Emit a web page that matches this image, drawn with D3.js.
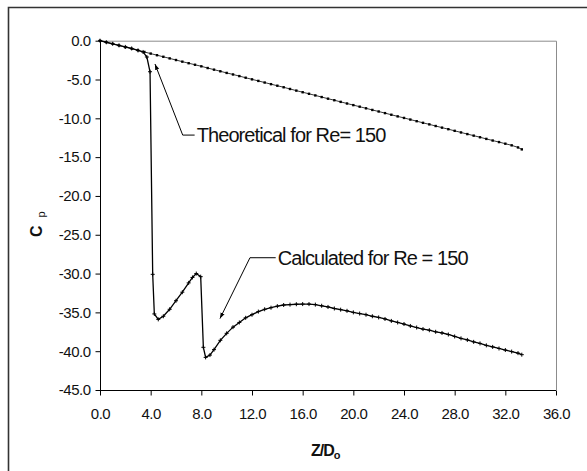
<!DOCTYPE html>
<html lang="en">
<head>
    <meta charset="UTF-8">
    <title>Cp vs Z/Do</title>
    <script src="https://d3js.org/d3.v7.min.js"></script>
    <style>
        body { margin: 0; background: #fff; }
        svg { display: block; font-family: "Liberation Sans", Arial, sans-serif; }
        .axis text { font-size: 15px; fill: #111; letter-spacing: -0.5px; }
        .axis path, .axis line { stroke: #000; }
        .note { font-size: 20px; fill: #111; letter-spacing: -0.9px; }
    </style>
</head>
<body>
    <svg width="587" height="471"></svg>
    <script>
        // values
        const xTicks = [0, 4, 8, 12, 16, 20, 24, 28, 32, 36];
        const yTicks = [0, -5, -10, -15, -20, -25, -30, -35, -40, -45];

        const theoreticalZ = [0, 0.5, 1, 1.5, 2, 2.5, 3, 3.5, 4, 4.5, 5, 5.5, 6, 6.5, 7, 7.5, 8, 8.5, 9, 9.5,
            10, 10.5, 11, 11.5, 12, 12.5, 13, 13.5, 14, 14.5, 15, 15.5, 16, 16.5, 17, 17.5, 18, 18.5, 19, 19.5,
            20, 20.5, 21, 21.5, 22, 22.5, 23, 23.5, 24, 24.5, 25, 25.5, 26, 26.5, 27, 27.5, 28, 28.5, 29, 29.5,
            30, 30.5, 31, 31.5, 32, 32.5, 33, 33.3];
        const theoreticalCp = [0, -0.2, -0.4, -0.62, -0.83, -1.03, -1.24, -1.45, -1.66, -1.87, -2.07, -2.28, -2.49, -2.7, -2.9, -3.1, -3.3, -3.52, -3.73, -3.94,
            -4.15, -4.35, -4.56, -4.77, -4.98, -5.18, -5.39, -5.6, -5.8, -6.0, -6.22, -6.43, -6.64, -6.84, -7.05, -7.26, -7.47, -7.67, -7.88, -8.09,
            -8.3, -8.5, -8.71, -8.92, -9.12, -9.33, -9.54, -9.75, -9.95, -10.16, -10.37, -10.58, -10.78, -10.99, -11.2, -11.4, -11.61, -11.82, -12.03, -12.23,
            -12.44, -12.65, -12.86, -13.06, -13.27, -13.48, -13.75, -14.0];

        const calculatedZ = [0, 0.5, 1, 1.5, 2, 2.5, 3, 3.4, 3.7, 3.95, 4.16, 4.29, 4.6, 5, 5.5, 6, 6.5, 7, 7.3, 7.6,
            7.95, 8.16, 8.34, 8.68, 9, 9.5, 10, 10.5, 11, 11.5, 12, 12.5, 13, 13.5, 14, 14.5, 15, 15.5, 16, 16.5,
            17, 17.5, 18, 18.5, 19, 19.5, 20, 20.5, 21, 21.5, 22, 22.5, 23, 23.5, 24, 24.5, 25, 25.5, 26, 26.5,
            27, 27.5, 28, 28.5, 29, 29.5, 30, 30.5, 31, 31.5, 32, 32.5, 33, 33.3];
        const calculatedCp = [0, -0.2, -0.4, -0.6, -0.8, -1.0, -1.25, -1.45, -2.1, -4.0, -30.1, -35.2, -35.9, -35.5, -34.6, -33.5, -32.4, -31.2, -30.5, -30.0,
            -30.4, -39.5, -40.8, -40.5, -39.8, -38.6, -37.7, -36.9, -36.3, -35.7, -35.3, -34.9, -34.6, -34.4, -34.2, -34.05, -34.0, -33.95, -33.93, -33.93,
            -34.0, -34.15, -34.3, -34.5, -34.65, -34.8, -35.0, -35.15, -35.3, -35.5, -35.65, -35.85, -36.1, -36.3, -36.5, -36.75, -36.95, -37.15, -37.3, -37.5,
            -37.65, -37.85, -38.1, -38.35, -38.55, -38.8, -39.0, -39.25, -39.45, -39.65, -39.85, -40.05, -40.25, -40.45];

        const theoretical = theoreticalZ.map((z, i) => ({ z: z, cp: theoreticalCp[i] }));
        const calculated = calculatedZ.map((z, i) => ({ z: z, cp: calculatedCp[i] }));

        const margin = { top: 40.7, bottom: 81, left: 100, right: 31 };
        const width = 587;
        const height = 471;

        const svg = d3.select("svg");

        const xScale = d3.scaleLinear()
            .domain([0, 36])
            .range([margin.left, width - margin.right]);

        const yScale = d3.scaleLinear()
            .domain([-45, 0])
            .range([height - margin.bottom, margin.top]);

        // outer chart frame (right and bottom run off the picture)
        svg.append("path")
            .attr("d", `M8.5,${height + 2} V7.5 H${width + 2}`)
            .attr("fill", "none")
            .attr("stroke", "#333")
            .attr("stroke-width", 1.6);

        // plot area frame, top and right in grey
        svg.append("path")
            .attr("d", `M${margin.left},${yScale(0) + 0.5} H${xScale(36) + 0.5} V${yScale(-45)}`)
            .attr("fill", "none")
            .attr("stroke", "#8c8c8c")
            .attr("stroke-width", 1);

        const fmt = d => d.toFixed(1);

        svg.append("g").attr("class", "axis")
            .attr("transform", `translate(0, ${yScale(-45) + 0.5})`)
            .call(d3.axisBottom(xScale).tickValues(xTicks).tickFormat(fmt).tickSize(5).tickPadding(13))
            .call(g => g.select(".domain").attr("d", `M${xScale(0)},0H${xScale(36)}`));

        svg.append("g").attr("class", "axis")
            .attr("transform", `translate(${margin.left + 0.5}, 0)`)
            .call(d3.axisLeft(yScale).tickValues(yTicks).tickFormat(fmt).tickSize(5).tickPadding(5))
            .call(g => g.select(".domain").attr("d", `M0,${yScale(0)}V${yScale(-45)}`));

        // axis titles
        const xt = svg.append("text")
            .attr("x", 311)
            .attr("y", 456)
            .attr("font-size", 16)
            .attr("font-weight", "bold")
            .attr("letter-spacing", -1)
            .attr("fill", "#111");
        xt.append("tspan").text("Z/D");
        xt.append("tspan").attr("font-size", 11).attr("dy", 3).text("o");

        const yt = svg.append("text")
            .attr("transform", "translate(42, 237) rotate(-90)")
            .attr("fill", "#111");
        yt.append("tspan").attr("font-size", 16).attr("font-weight", "bold").text("C");
        yt.append("tspan").attr("font-size", 11).attr("dy", 3).attr("dx", 8).text("p");

        const line = d3.line()
            .x(d => xScale(d.z))
            .y(d => yScale(d.cp));

        svg.append("path")
            .attr("d", line(theoretical))
            .attr("fill", "none")
            .attr("stroke", "#000")
            .attr("stroke-width", 0.8);

        svg.append("g").selectAll("rect")
            .data(theoretical)
            .enter().append("rect")
            .attr("x", d => xScale(d.z) - 1.2)
            .attr("y", d => yScale(d.cp) - 1.2)
            .attr("width", 2.4)
            .attr("height", 2.4)
            .attr("fill", "#000");

        svg.append("path")
            .attr("d", line(calculated))
            .attr("fill", "none")
            .attr("stroke", "#000")
            .attr("stroke-width", 1.3);

        svg.append("g").selectAll("path")
            .data(calculated)
            .enter().append("path")
            .attr("d", d => {
                const x = xScale(d.z), y = yScale(d.cp);
                return `M${x - 2},${y}H${x + 2}M${x},${y - 2}V${y + 2}`;
            })
            .attr("stroke", "#000")
            .attr("stroke-width", 1);

        // callouts
        svg.append("defs").append("marker")
            .attr("id", "head")
            .attr("viewBox", "0 0 10 10")
            .attr("refX", 10)
            .attr("refY", 5)
            .attr("markerWidth", 6)
            .attr("markerHeight", 6)
            .attr("orient", "auto")
            .append("path")
            .attr("d", "M0,1.5L10,5L0,8.5Z")
            .attr("fill", "#000");

        const notes = [
            { label: "Theoretical for Re= 150", tip: [4.34, -3.0], elbow: [6.53, -12.16], start: 7.55 },
            { label: "Calculated for Re = 150", tip: [9.47, -35.8], elbow: [11.84, -27.96], start: 13.95 }
        ];

        notes.forEach(n => {
            svg.append("path")
                .attr("d", `M${xScale(n.start) - 1},${yScale(n.elbow[1])}H${xScale(n.elbow[0])}L${xScale(n.tip[0])},${yScale(n.tip[1])}`)
                .attr("fill", "none")
                .attr("stroke", "#000")
                .attr("stroke-width", 1)
                .attr("marker-end", "url(#head)");

            svg.append("text")
                .attr("class", "note")
                .attr("x", xScale(n.start) + 1)
                .attr("y", yScale(n.elbow[1]) + 7)
                .text(n.label);
        });
    </script>
</body>
</html>
